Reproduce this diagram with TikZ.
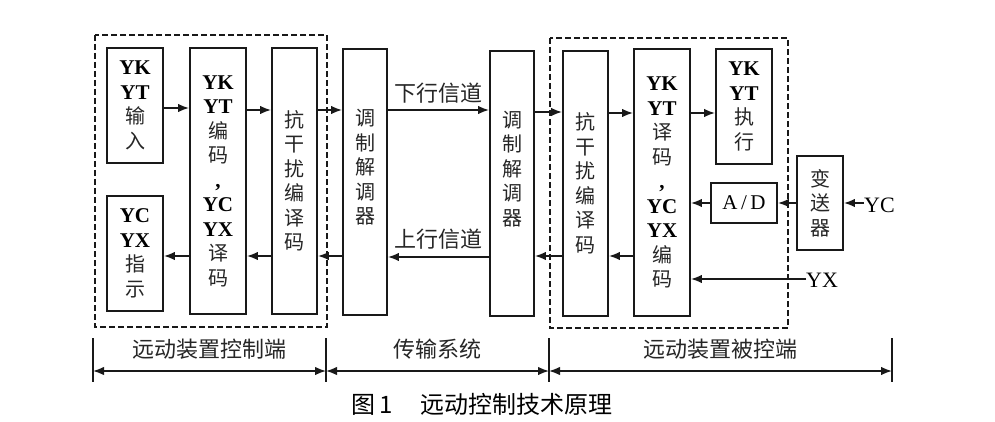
\documentclass[tikz,border=0pt]{standalone}
\usepackage{fontspec}
\setmainfont{Liberation Serif}
\newfontfamily\cjk{Noto Sans CJK SC}
\usetikzlibrary{arrows.meta}
\newcommand\cj[1]{{\cjk\color{black!85}#1}}
\newcommand\lt[1]{{\fontsize{21}{24.5}\selectfont\bfseries #1}}
\begin{document}
\begin{tikzpicture}[x=1pt,y=-1pt,
  blk/.style={draw=black!90, line width=1.8pt, inner sep=0pt, align=center,
    font=\fontsize{20}{24.5}\selectfont},
  arr/.style={line width=1.8pt, draw=black!90, -{Latex[length=11pt,width=8.5pt]}},
  grp/.style={draw=black!90, line width=1.4pt, dash pattern=on 6pt off 3pt},
  lbl/.style={inner sep=0pt, font=\fontsize{22}{24}\selectfont\cjk, text=black!85},
  dbl/.style={line width=1.5pt, draw=black!90, {Latex[length=11pt,width=8.5pt]}-{Latex[length=11pt,width=8.5pt]}}
]
\fill[white] (0,0) rectangle (995,422);
\useasboundingbox (0,0) rectangle (995,422);

% group frames
\draw[grp] (95,35) rectangle (327,327);
\draw[grp] (550,38) rectangle (788,328);

% blocks
\node[blk, minimum width=56pt, minimum height=115pt] (in1) at (135,105.5) {\lt{YK}\\\lt{YT}\\\cj{输}\\\cj{入}};
\node[blk, minimum width=56pt, minimum height=115pt] (ind) at (135,253.5) {\lt{YC}\\\lt{YX}\\\cj{指}\\\cj{示}};
\node[blk, minimum width=56pt, minimum height=266pt] (enc) at (218,181) {\lt{YK}\\\lt{YT}\\\cj{编}\\\cj{码}\\\lt{,}\\\lt{YC}\\\lt{YX}\\\cj{译}\\\cj{码}};
\node[blk, minimum width=45pt, minimum height=266pt] (fec1) at (294.5,181) {\cj{抗}\\\cj{干}\\\cj{扰}\\\cj{编}\\\cj{译}\\\cj{码}};
\node[blk, minimum width=44pt, minimum height=266pt] (mod1) at (365,182) {\cj{调}\\\cj{制}\\\cj{解}\\\cj{调}\\\cj{器}\\[6pt]};
\node[blk, minimum width=44pt, minimum height=265pt] (mod2) at (512,183.5) {\cj{调}\\\cj{制}\\\cj{解}\\\cj{调}\\\cj{器}\\[6pt]};
\node[blk, minimum width=45pt, minimum height=265pt] (fec2) at (585.5,183.5) {\cj{抗}\\\cj{干}\\\cj{扰}\\\cj{编}\\\cj{译}\\\cj{码}};
\node[blk, minimum width=56pt, minimum height=267pt] (dec) at (662,182.5) {\lt{YK}\\\lt{YT}\\\cj{译}\\\cj{码}\\\lt{,}\\\lt{YC}\\\lt{YX}\\\cj{编}\\\cj{码}};
\node[blk, minimum width=56pt, minimum height=115pt] (exe) at (744,106.5) {\lt{YK}\\\lt{YT}\\\cj{执}\\\cj{行}};
\node[blk, minimum width=66pt, minimum height=40pt] (ad) at (744,203) {{\fontsize{21}{24}\selectfont A\,/\,D}};
\node[blk, minimum width=46pt, minimum height=94pt] (trans) at (820,203) {\cj{变}\\\cj{送}\\\cj{器}};

% external inputs
\node[anchor=west, inner sep=0pt, font=\fontsize{22}{24}\selectfont] (yc) at (864,205) {YC};
\node[anchor=west, inner sep=0pt, font=\fontsize{22}{24}\selectfont] (yx) at (806,280) {YX};

% forward path (downlink)
\draw[arr] (in1.east |- 0,108) -- (enc.west |- 0,108);
\draw[arr] (enc.east |- 0,110) -- (fec1.west |- 0,110);
\draw[arr] (fec1.east |- 0,110) -- (mod1.west |- 0,110);
\draw[arr] (mod1.east |- 0,110) -- node[lbl, above=6pt] {下行信道} (mod2.west |- 0,110);
\draw[arr] (mod2.east |- 0,112) -- (fec2.west |- 0,112);
\draw[arr] (fec2.east |- 0,113) -- (dec.west |- 0,113);
\draw[arr] (dec.east |- 0,113) -- (exe.west |- 0,113);

% return path (uplink)
\draw[arr] (yc.west |- trans.east) -- (trans.east);
\draw[arr] (trans.west) -- (ad.east);
\draw[arr] (ad.west) -- (dec.east |- ad.west);
\draw[arr] (yx.west |- 0,279) -- (dec.east |- 0,279);
\draw[arr] (dec.west |- 0,256) -- (fec2.east |- 0,256);
\draw[arr] (fec2.west |- 0,256) -- (mod2.east |- 0,256);
\draw[arr] (mod2.west |- 0,257) -- node[lbl, above=7pt] {上行信道} (mod1.east |- 0,257);
\draw[arr] (mod1.west |- 0,256) -- (fec1.east |- 0,256);
\draw[arr] (fec1.west |- 0,256) -- (enc.east |- 0,256);
\draw[arr] (enc.west |- 0,256) -- (ind.east |- 0,256);

% span markers
\draw[line width=1.4pt, black!90] (93,338) -- (93,382);
\draw[line width=1.4pt, black!90] (326,338) -- (326,382);
\draw[line width=1.4pt, black!90] (549,338) -- (549,382);
\draw[line width=1.4pt, black!90] (892,338) -- (892,382);
\coordinate (t1) at (93,371);
\coordinate (t2) at (326,371);
\coordinate (t3) at (549,371);
\coordinate (t4) at (892,371);
\draw[dbl] (t1) -- node[lbl, above=11pt] {远动装置控制端} (t2);
\draw[dbl] (t2) -- node[lbl, above=11pt] {传输系统} (t3);
\draw[dbl] (t3) -- node[lbl, above=11pt] {远动装置被控端} (t4);

% caption
\node[anchor=west, inner sep=0pt, font=\fontsize{24}{26}\selectfont\cjk] (cap) at (351,404) {图\,1\hspace{28pt}远动控制技术原理};
\end{tikzpicture}
\end{document}
